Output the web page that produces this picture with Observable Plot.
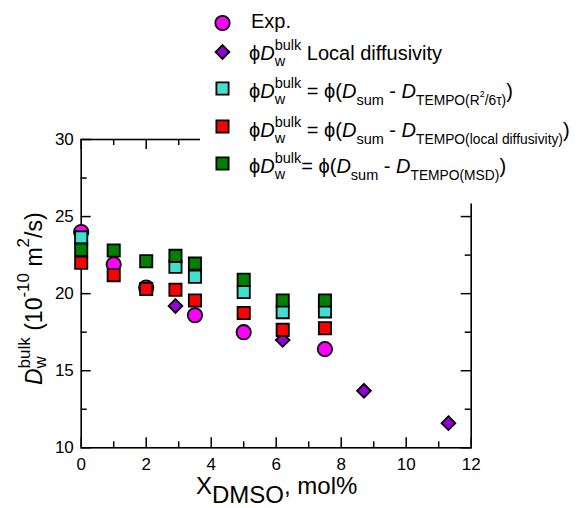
<!DOCTYPE html>
<html><head><meta charset="utf-8">
<script src="https://cdn.jsdelivr.net/npm/d3@7"></script>
<script src="https://cdn.jsdelivr.net/npm/@observablehq/plot@0.6"></script>
<style>body{margin:0;background:#fff} #chart{width:578px;height:508px}</style>
</head><body><div id="chart"></div>
<script>
// ---- data ----
const xExp = [0, 1, 2, 3.5, 5, 7.5];
const yExp = [24.0, 21.9, 20.4, 18.6, 17.5, 16.4];
const xLocal = [2.9, 6.2, 8.7, 11.3];
const yLocal = [19.2, 17.0, 13.7, 11.6];
const xR2 = [0, 2.9, 3.5, 5, 6.2, 7.5];
const yR2 = [23.65, 21.75, 21.1, 20.1, 18.8, 18.85];
const xLD = [0, 1, 2, 2.9, 3.5, 5, 6.2, 7.5];
const yLD = [22.0, 21.2, 20.3, 20.25, 19.55, 18.75, 17.65, 17.75];
const xMSD = [0, 1, 2, 2.9, 3.5, 5, 6.2, 7.5];
const yMSD = [22.85, 22.8, 22.1, 22.45, 21.95, 20.9, 19.55, 19.55];
const xMajor = [0, 2, 4, 6, 8, 10, 12];
const xMinor = [1, 3, 5, 7, 9, 11];
const yMajor = [10, 15, 20, 25, 30];
const yMinor = [12.5, 17.5, 22.5, 27.5];

const zip = (xs, ys) => xs.map((x, i) => ({x, y: ys[i]}));
const W = 578, H = 508;
const mL = 80.7, mR = 107.3, mT = 139, mB = 60.7;
const innerH = H - mT - mB, innerW = W - mL - mR;
const FONT = '"Liberation Sans", Arial, Helvetica, sans-serif';
const C = {exp: "#ff00ff", local: "#9400d3", r2: "#40e0d0", ld: "#ff0000", msd: "#008000"};
const SW = 1.8, rC = 7.2, rD = 6.2, rS = 6.9;
const tickStyle = {stroke: "#000", strokeWidth: 1.5};

const plot = Plot.plot({
  width: W, height: H,
  marginLeft: mL, marginRight: mR, marginTop: mT, marginBottom: mB,
  style: {fontFamily: FONT, fontSize: "17px", color: "#000", background: "#fff", overflow: "visible"},
  x: {domain: [0, 12], label: null},
  y: {domain: [10, 30], label: null},
  marks: [
    Plot.tickX(xMajor, {x: d => d, insetTop: innerH - 10, ...tickStyle}),
    Plot.tickX(xMajor, {x: d => d, insetBottom: innerH - 10, ...tickStyle}),
    Plot.tickX(xMinor, {x: d => d, insetTop: innerH - 6, ...tickStyle}),
    Plot.tickX(xMinor, {x: d => d, insetBottom: innerH - 6, ...tickStyle}),
    Plot.tickY(yMajor, {y: d => d, insetRight: innerW - 10, ...tickStyle}),
    Plot.tickY(yMajor, {y: d => d, insetLeft: innerW - 10, ...tickStyle}),
    Plot.tickY(yMinor, {y: d => d, insetRight: innerW - 6, ...tickStyle}),
    Plot.tickY(yMinor, {y: d => d, insetLeft: innerW - 6, ...tickStyle}),
    Plot.frame({stroke: "#000", strokeWidth: 1.6}),
    Plot.axisX(xMajor, {tickSize: 0, tickPadding: 10, label: null}),
    Plot.axisY(yMajor, {tickSize: 0, tickPadding: 7.4, label: null}),
    Plot.dot(zip(xExp, yExp), {x: "x", y: "y", symbol: "circle", r: rC, fill: C.exp, stroke: "#000", strokeWidth: SW}),
    Plot.dot(zip(xLocal, yLocal), {x: "x", y: "y", symbol: "diamond2", r: rD, fill: C.local, stroke: "#000", strokeWidth: SW}),
    Plot.dot(zip(xR2, yR2), {x: "x", y: "y", symbol: "square", r: rS, fill: C.r2, stroke: "#000", strokeWidth: SW}),
    Plot.dot(zip(xLD, yLD), {x: "x", y: "y", symbol: "square", r: rS, fill: C.ld, stroke: "#000", strokeWidth: SW}),
    Plot.dot(zip(xMSD, yMSD), {x: "x", y: "y", symbol: "square", r: rS, fill: C.msd, stroke: "#000", strokeWidth: SW})
  ]
});
document.getElementById("chart").append(plot);

const svg = d3.select(plot);
function rich(g, x, y, parts, baseSize) {
  let cx = x, prevStart = x, prevW = 0;
  for (const p of parts) {
    const size = p.size || baseSize;
    const t = g.append("text")
      .attr("y", y + (p.dy || 0))
      .attr("font-size", size)
      .attr("font-family", FONT)
      .attr("text-anchor", "start")
      .attr("fill", "#000")
      .style("white-space", "pre")
      .text(p.t);
    if (p.italic) t.attr("font-style", "italic");
    const start = p.under ? prevStart : cx;
    t.attr("x", start);
    const w = t.node().getComputedTextLength();
    if (p.under) cx = prevStart + Math.max(prevW, w);
    else { prevStart = cx; prevW = w; cx += w; }
  }
  return cx;
}

// legend box (covers the top-right of the frame)
const lg = svg.append("g").attr("text-anchor", "start");
lg.append("rect").attr("x", 200).attr("y", 0).attr("width", 378).attr("height", 203.5).attr("fill", "#fff");
const symItems = [
  {type: d3.symbolCircle, size: Math.PI * rC * rC, fill: C.exp, y: 23},
  {type: d3.symbolDiamond2, size: Math.PI * rD * rD, fill: C.local, y: 52},
  {type: d3.symbolSquare, size: Math.PI * rS * rS, fill: C.r2, y: 88.5},
  {type: d3.symbolSquare, size: Math.PI * rS * rS, fill: C.ld, y: 126.5},
  {type: d3.symbolSquare, size: Math.PI * rS * rS, fill: C.msd, y: 163.5}
];
for (const s of symItems) {
  lg.append("path").attr("d", d3.symbol(s.type, s.size)())
    .attr("transform", `translate(222.5,${s.y})`)
    .attr("fill", s.fill).attr("stroke", "#000").attr("stroke-width", SW);
}
const LS = 20, SS = 14.5, TS = 13.8;
const phiD = () => [
  {t: "ϕ"}, {t: "D", italic: true},
  {t: "bulk", size: SS, dy: -10}, {t: "w", size: SS, dy: 6, under: true}
];
rich(lg, 251, 28.3, [{t: "Exp."}], LS);
rich(lg, 249, 60, [...phiD(), {t: " Local diffusivity"}], LS);
rich(lg, 249, 98, [...phiD(), {t: " = ϕ("}, {t: "D", italic: true}, {t: "sum", size: SS, dy: 7},
  {t: " - "}, {t: "D", italic: true}, {t: "TEMPO(R", size: TS, dy: 7}, {t: "2", size: 9, dy: -1},
  {t: "/6τ)", size: TS, dy: 7}, {t: ")"}], LS);
rich(lg, 249, 136.5, [...phiD(), {t: " = ϕ("}, {t: "D", italic: true}, {t: "sum", size: SS, dy: 7},
  {t: " - "}, {t: "D", italic: true}, {t: "TEMPO(local diffusivity)", size: TS, dy: 7}, {t: ")"}], LS);
rich(lg, 249, 173, [...phiD(), {t: "= ϕ("}, {t: "D", italic: true}, {t: "sum", size: SS, dy: 7},
  {t: " - "}, {t: "D", italic: true}, {t: "TEMPO(MSD)", size: TS, dy: 7}, {t: ")"}], LS);

// y axis title
const yt = svg.append("g").attr("text-anchor", "start").attr("transform", "translate(42,385) rotate(-90)");
rich(yt, 0, 0, [
  {t: "D", italic: true}, {t: "bulk", size: 17, dy: -12}, {t: "w", size: 17, dy: 4, under: true},
  {t: " (10"}, {t: "-10", size: 17, dy: -13}, {t: " m"}, {t: "2", size: 17, dy: -13}, {t: "/s)"}
], 23);

// x axis title
const xt = svg.append("g").attr("text-anchor", "start");
rich(xt, 196, 494, [{t: "X"}, {t: "DMSO", dy: 9}, {t: ", mol%"}], 24);
</script>
</body></html>
